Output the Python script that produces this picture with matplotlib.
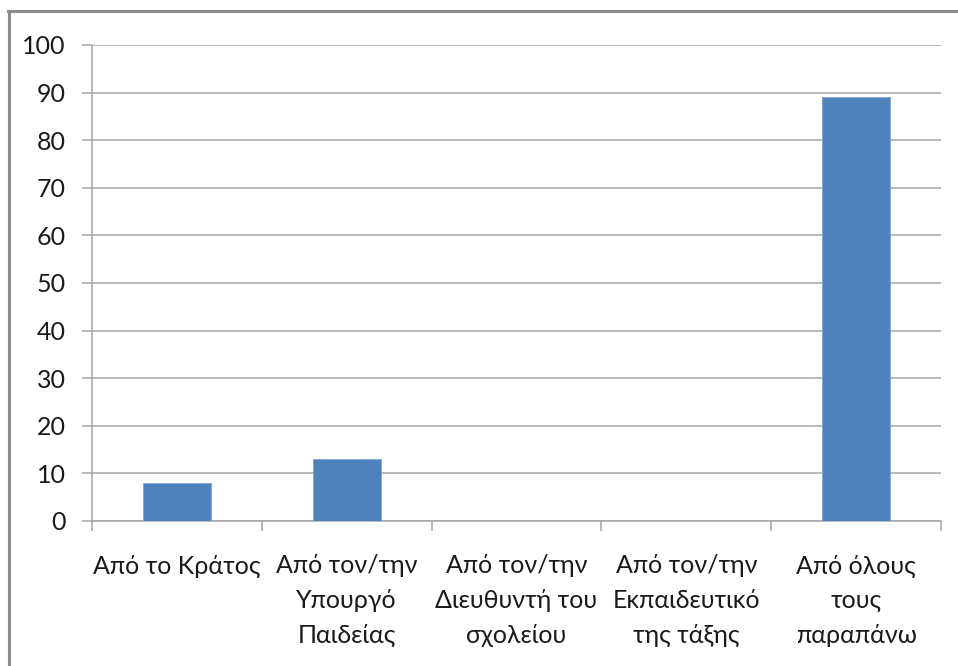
import matplotlib
matplotlib.use("Agg")
import matplotlib.pyplot as plt
from matplotlib.lines import Line2D

categories = [
    "Από το Κράτος",
    "Από τον/την\nΥπουργό\nΠαιδείας",
    "Από τον/την\nΔιευθυντή του\nσχολείου",
    "Από τον/την\nΕκπαιδευτικό\nτης τάξης",
    "Από όλους\nτους\nπαραπάνω",
]
values = [8, 13, 0, 0, 89]
y_ticks = list(range(0, 101, 10))

plt.rcParams["font.family"] = ["Lato", "DejaVu Sans"]

W, H = 958, 666
fig = plt.figure(figsize=(W / 100, H / 100), dpi=100)
ax = fig.add_axes([92 / W, 1 - 521 / H, (941 - 92) / W, (521 - 45) / H])

grid_col = "#a6a6a6"
positions = list(range(len(categories)))
ax.bar(positions, values, width=0.4, color="#4f81bd", edgecolor="#7fa3d0",
       linewidth=0.6, zorder=3)

ax.set_xlim(-0.5, len(categories) - 0.5)
ax.set_ylim(0, 100)
ax.set_yticks(y_ticks)
ax.set_yticklabels([str(v) for v in y_ticks], fontsize=18, color="#1a1a1a")
ax.yaxis.grid(True, color=grid_col, linewidth=1.1, zorder=0)
ax.set_axisbelow(True)

ax.set_xticks(positions)
ax.set_xticklabels(categories, fontsize=18, color="#1a1a1a", linespacing=1.62,
                   va="top")
ax.set_xticks([p - 0.5 for p in positions] + [len(categories) - 0.5], minor=True)
ax.tick_params(axis="x", which="major", length=0, pad=24)
ax.tick_params(axis="x", which="minor", length=7, width=1.1, color=grid_col,
               direction="out")
ax.tick_params(axis="y", length=7, width=1.1, color=grid_col, pad=12,
               direction="out")

for side in ("top", "right"):
    ax.spines[side].set_visible(False)
for side in ("left", "bottom"):
    ax.spines[side].set_color(grid_col)
    ax.spines[side].set_linewidth(1.1)

# frame edges along the top and left of the image
border = "#8c8c8c"
fig.add_artist(Line2D([8 / W, 1], [1 - 11 / H, 1 - 11 / H], color=border,
                      linewidth=2.2, transform=fig.transFigure))
fig.add_artist(Line2D([9 / W, 9 / W], [0, 1 - 11 / H], color=border,
                      linewidth=2.2, transform=fig.transFigure))

fig.savefig("out.png", dpi=100, facecolor="white")
